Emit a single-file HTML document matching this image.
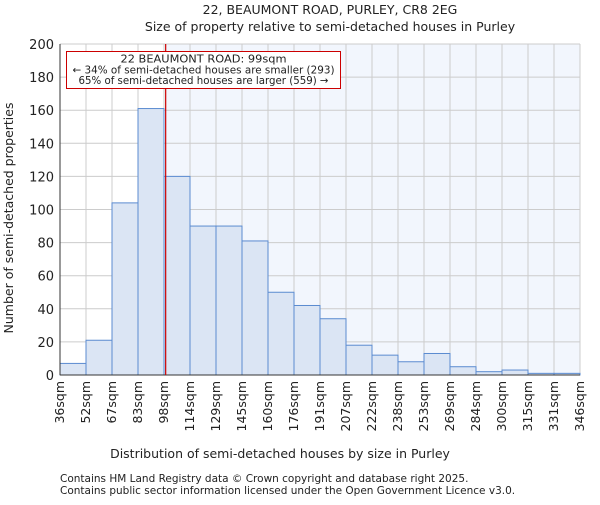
<!DOCTYPE html>
<html><head><meta charset="utf-8"><style>
body{margin:0;background:#fff}
svg text{font-family:"DejaVu Sans","Liberation Sans",sans-serif;fill:#222}
</style></head><body>
<svg width="600" height="500" id="c">
<text x="330" y="14" font-size="12.5" text-anchor="middle">22, BEAUMONT ROAD, PURLEY, CR8 2EG</text>
<text x="330" y="31" font-size="12.5" text-anchor="middle">Size of property relative to semi-detached houses in Purley</text>
<g id="plot"></g>
<text x="280" y="458" font-size="12.5" text-anchor="middle">Distribution of semi-detached houses by size in Purley</text>
<text transform="translate(13,218) rotate(-90)" font-size="12.5" text-anchor="middle">Number of semi-detached properties</text>
<text x="60" y="482" font-size="10.5" fill="#444">Contains HM Land Registry data © Crown copyright and database right 2025.</text>
<text x="60" y="494" font-size="10.5" fill="#444">Contains public sector information licensed under the Open Government Licence v3.0.</text>
</svg>
<script>
const categories=["36sqm","52sqm","67sqm","83sqm","98sqm","114sqm","129sqm","145sqm","160sqm","176sqm","191sqm","207sqm","222sqm","238sqm","253sqm","269sqm","284sqm","300sqm","315sqm","331sqm","346sqm"];
const values=[7,21,104,161,120,90,90,81,50,42,34,18,12,8,13,5,2,3,1,1];
const yTicks=[0,20,40,60,80,100,120,140,160,180,200];
const propertySize=99;
const binStart=36,binWidth=15.5;
const L=60,R=580,T=44,B=375,ns="http://www.w3.org/2000/svg";
const bw=(R-L)/values.length;
const x=i=>L+i*bw;
const xv=v=>L+(v-binStart)/binWidth*bw;
const y=v=>B-(v/200)*(B-T);
const g=document.getElementById('plot');
function mk(t,a,p){const e=document.createElementNS(ns,t);for(const k in a)e.setAttribute(k,a[k]);(p||g).appendChild(e);return e;}
const rx=xv(propertySize);
let bg=mk('rect',{x:rx,y:T,width:R-rx,height:B-T,fill:'#f2f6fd'});


for(let i=0;i<=values.length;i++){let l=mk('line',{x1:x(i),x2:x(i),y1:T,y2:B,stroke:'#ccc','stroke-width':1});

}
yTicks.forEach(t=>{let l=mk('line',{x1:L,x2:R,y1:y(t),y2:y(t),stroke:'#ccc','stroke-width':1});


let tx=mk('text',{x:L-6,y:y(t)+5,'font-size':13,'text-anchor':'end'});tx.textContent=t;

});
values.forEach((v,i)=>{let r=mk('rect',{x:x(i),y:y(v),width:bw,height:B-y(v),fill:'#dbe5f4',stroke:'#5b8bd0','stroke-width':1});

});
categories.forEach((c,i)=>{let tx=mk('text',{transform:`translate(${x(i)+4},381) rotate(-90)`,'font-size':12.5,'text-anchor':'end'});tx.textContent=c;

});
let ax=mk('line',{x1:L,x2:L,y1:T,y2:B,stroke:'#333'});


let ax2=mk('line',{x1:L,x2:R,y1:B,y2:B,stroke:'#333'});


let rl=mk('line',{x1:rx,x2:rx,y1:T,y2:B,stroke:'#c00','stroke-width':1.2});


let box=mk('rect',{x:66.5,y:51.5,width:274,height:37,fill:'#fff',stroke:'#c00','stroke-width':1});


const ann=["22 BEAUMONT ROAD: 99sqm","← 34% of semi-detached houses are smaller (293)","65% of semi-detached houses are larger (559) →"];
const annW=[166,262,250];
ann.forEach((s,i)=>{let tx=mk('text',{x:203.5,y:62.5+i*10.8,'font-size':10.5,'text-anchor':'middle',textLength:annW[i],lengthAdjust:'spacingAndGlyphs'});tx.textContent=s;

});
</script>
</body></html>
